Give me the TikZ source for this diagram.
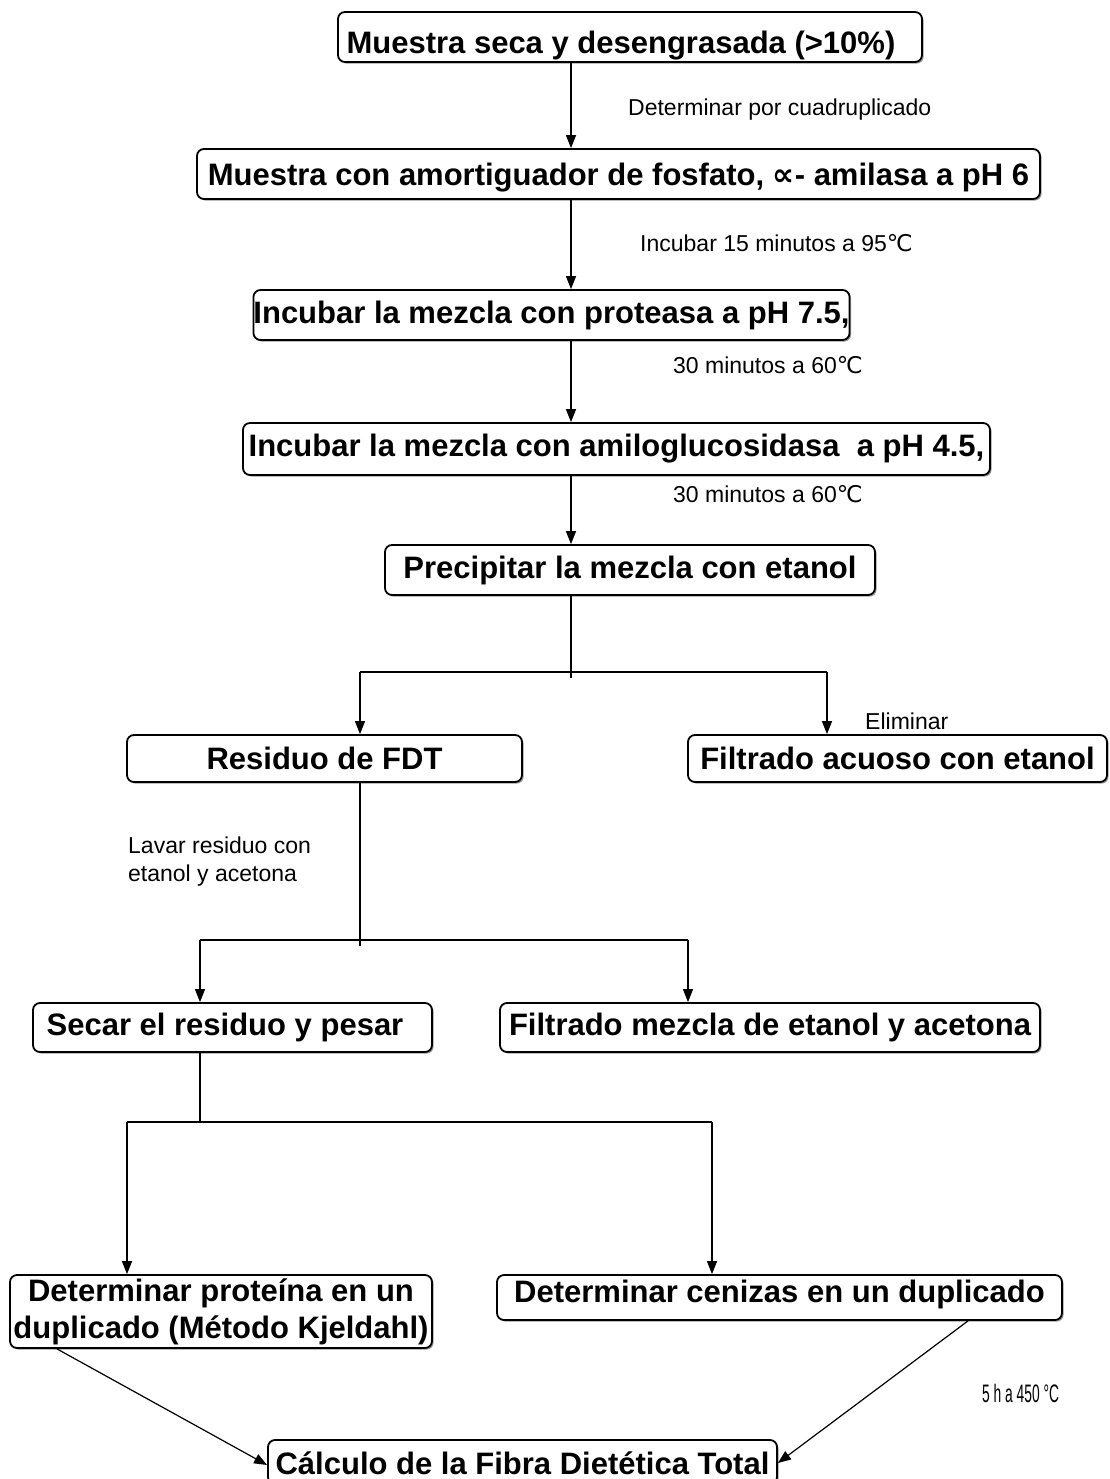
\documentclass[tikz,border=0pt]{standalone}
\usepackage{fontspec}
\setmainfont{Liberation Sans}
\newfontfamily\djv{DejaVu Sans}
\usetikzlibrary{arrows.meta,shadows}
\begin{document}
\begin{tikzpicture}[x=1pt,y=-1pt,
  box/.style={draw,line width=1.8pt,rounded corners=7pt,fill=white,inner sep=0pt,
    font=\fontsize{31}{37}\selectfont\bfseries,align=center,
    drop shadow={shadow xshift=1.6pt,shadow yshift=-1.6pt,fill=black!40,opacity=1}},
  lbl/.style={anchor=west,inner sep=0pt,font=\fontsize{23}{28}\selectfont,align=left},
  conn/.style={line width=1.4pt},
  arr/.style={conn,-{Triangle[length=13pt,width=10pt]}}]
\useasboundingbox (0,0) rectangle (1109,1479);
\clip (0,0) rectangle (1109,1479);
\fill[white] (0,0) rectangle (1109,1479);

% boxes
\node[box,minimum width=584pt,minimum height=50pt,text height=35pt,text depth=2pt] (B1) at (630,37) {Muestra seca y desengrasada (>10\%)\hspace*{18pt}};
\node[box,minimum width=843pt,minimum height=50pt,text height=26pt,text depth=2pt] (B2) at (618.5,174) {Muestra con amortiguador de fosfato, {\djv ∝}- amilasa a pH 6};
\node[box,minimum width=477pt,minimum height=50pt] (B3) at (551.5,315) {Incubar la mezcla con proteasa a pH 7.5,};
\node[box,minimum width=747pt,minimum height=52pt] (B4) at (616.5,449) {Incubar la mezcla con amiloglucosidasa~ a pH 4.5,};
\node[box,minimum width=490pt,minimum height=50pt] (B5) at (630,570) {Precipitar la mezcla con etanol};
\node[box,minimum width=395pt,minimum height=47pt] (B6) at (324.5,758.5) {Residuo de FDT};
\node[box,minimum width=419pt,minimum height=47pt] (B7) at (897.5,758.5) {Filtrado acuoso con etanol};
\node[box,minimum width=399pt,minimum height=49pt] (B8) at (232.5,1027.5) {Secar el residuo y pesar\hspace*{15pt}};
\node[box,minimum width=540pt,minimum height=49pt] (B9) at (770,1027.5) {Filtrado mezcla de etanol y acetona};
\node[box,minimum width=422pt,minimum height=73pt] (B10) at (221,1311.5) {Determinar proteína en un\\duplicado (Método Kjeldahl)};
\node[box,minimum width=565pt,minimum height=45pt,text height=22pt,text depth=13pt] (B11) at (779.5,1297.5) {Determinar cenizas en un duplicado};
\node[box,minimum width=509pt,minimum height=44pt,text height=26pt,text depth=2pt] (B12) at (522.5,1462) {Cálculo de la Fibra Dietética Total};

% labels
\node[lbl] (L1) at (628,110) {Determinar por cuadruplicado};
\node[lbl] (L2) at (640,243) {Incubar 15 minutos a 95{\djv ℃}};
\node[lbl] (L3) at (673,365) {30 minutos a 60{\djv ℃}};
\node[lbl] (L4) at (673,494) {30 minutos a 60{\djv ℃}};
\node[lbl] (L5) at (865,721) {Eliminar};
\node[lbl] (L6) at (128,862) {Lavar residuo con\\etanol y acetona};
\node[lbl] (L7) at (982,1393) {\scalebox{0.6}[1.1]{5 h a 450 °C}};

% junction coordinates
\coordinate (J1) at (571,672);
\coordinate (J1L) at (360,672);
\coordinate (J1R) at (827,672);
\coordinate (J2) at (360,940);
\coordinate (J2L) at (200,940);
\coordinate (J2R) at (688,940);
\coordinate (J3) at (200,1122);
\coordinate (J3L) at (127,1122);
\coordinate (J3R) at (712,1122);
\coordinate (E1) at (268,1465);
\coordinate (E2) at (777,1463);

% straight chain
\draw[arr] (571,0 |- B1.south) -- (571,0 |- B2.north);
\draw[arr] (571,0 |- B2.south) -- (571,0 |- B3.north);
\draw[arr] (571,0 |- B3.south) -- (571,0 |- B4.north);
\draw[arr] (571,0 |- B4.south) -- (571,0 |- B5.north);

% first split
\draw[conn] (J1 |- B5.south) -- ([yshift=-6pt]J1);
\draw[conn] (J1L) -- (J1R);
\draw[arr] (J1L) -- (J1L |- B6.north);
\draw[arr] (J1R) -- (J1R |- B7.north);

% second split
\draw[conn] (J2 |- B6.south) -- ([yshift=-6pt]J2);
\draw[conn] (J2L) -- (J2R);
\draw[arr] (J2L) -- (J2L |- B8.north);
\draw[arr] (J2R) -- (J2R |- B9.north);

% third split
\draw[conn] (J3 |- B8.south) -- (J3);
\draw[conn] (J3L) -- (J3R);
\draw[arr] (J3L) -- (J3L |- B10.north);
\draw[arr] (J3R) -- (J3R |- B11.north);

% to final
\draw[arr,line width=1.2pt] (57,0 |- B10.south) -- (E1 -| B12.west);
\draw[arr,line width=1.2pt] (968,0 |- B11.south) -- (E2 -| B12.east);
\end{tikzpicture}
\end{document}
